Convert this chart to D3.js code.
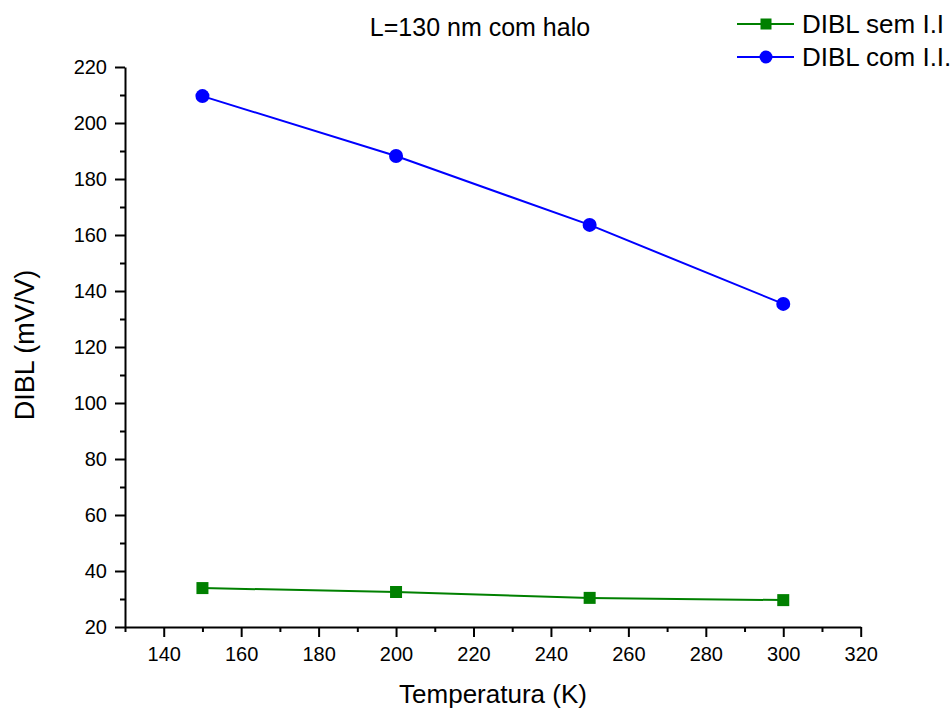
<!DOCTYPE html>
<html><head><meta charset="utf-8">
<script src="https://cdn.jsdelivr.net/npm/d3@7"></script>
<style>body{margin:0;background:#fff}svg{font-family:"Liberation Sans",Arial,sans-serif}</style>
</head><body>
<svg id="c" width="951" height="709"></svg>
<script>
const temps = [150, 200, 250, 300];
const dibSem = [33.9, 32.5, 30.4, 29.6];
const dibCom = [209.6, 188.2, 163.6, 135.4];
const xTicks = [140,160,180,200,220,240,260,280,300,320];
const yTicks = [20,40,60,80,100,120,140,160,180,200,220];

const svg = d3.select("#c");
const x = d3.scaleLinear().domain([130,320]).range([125,860.7]);
const y = d3.scaleLinear().domain([20,220]).range([627,67]);

const xMinor = d3.range(130, 321, 10).filter(v => v % 20 !== 0);
const yMinor = d3.range(30, 221, 20);

svg.append("g").attr("transform","translate(0,627)")
  .call(d3.axisBottom(x).tickValues(xTicks).tickSize(10).tickSizeOuter(0).tickPadding(10));
svg.append("g").attr("transform","translate(0,627)")
  .call(d3.axisBottom(x).tickValues(xMinor).tickSize(5).tickSizeOuter(0).tickFormat(""))
  .select(".domain").remove();
svg.append("g").attr("transform","translate(125,0)")
  .call(d3.axisLeft(y).tickValues(yTicks).tickSize(10).tickSizeOuter(0).tickPadding(8));
svg.append("g").attr("transform","translate(125,0)")
  .call(d3.axisLeft(y).tickValues(yMinor).tickSize(5).tickSizeOuter(0).tickFormat(""))
  .select(".domain").remove();
svg.selectAll(".domain").attr("stroke","#000").attr("stroke-width",2);
svg.selectAll(".tick line").attr("stroke","#000").attr("stroke-width",2);
svg.selectAll(".tick text").attr("font-size",20).attr("fill","#000").attr("font-family","Liberation Sans, Arial, sans-serif");

const line = d3.line().x((d,i)=>x(temps[i])).y(d=>y(d));
svg.append("path").datum(dibSem).attr("d",line).attr("fill","none").attr("stroke","#008000").attr("stroke-width",2);
svg.append("path").datum(dibCom).attr("d",line).attr("fill","none").attr("stroke","#0000ff").attr("stroke-width",2);

svg.selectAll(".sq").data(dibSem).enter().append("rect")
  .attr("x",(d,i)=>x(temps[i])-6).attr("y",d=>y(d)-6).attr("width",12).attr("height",12).attr("fill","#008000");
svg.selectAll(".ci").data(dibCom).enter().append("circle")
  .attr("cx",(d,i)=>x(temps[i])).attr("cy",d=>y(d)).attr("r",7).attr("fill","#0000ff");

svg.append("text").attr("x",480).attr("y",36).attr("text-anchor","middle").attr("font-size",25).text("L=130 nm com halo");
svg.append("text").attr("x",493).attr("y",703).attr("text-anchor","middle").attr("font-size",26).text("Temperatura (K)");
svg.append("text").attr("transform","translate(34,345) rotate(-90)").attr("text-anchor","middle").attr("font-size",27).text("DIBL (mV/V)");

const leg = [
  {label:"DIBL sem I.I", color:"#008000", shape:"sq", yy:24},
  {label:"DIBL com I.I.", color:"#0000ff", shape:"ci", yy:57}
];
leg.forEach(l => {
  svg.append("line").attr("x1",737).attr("x2",794).attr("y1",l.yy).attr("y2",l.yy).attr("stroke",l.color).attr("stroke-width",2);
  if (l.shape==="sq") svg.append("rect").attr("x",760.5).attr("y",l.yy-5.5).attr("width",11).attr("height",11).attr("fill",l.color);
  else svg.append("circle").attr("cx",766).attr("cy",l.yy).attr("r",6.5).attr("fill",l.color);
  svg.append("text").attr("x",802).attr("y",l.yy+9).attr("font-size",26).text(l.label);
});
</script>
</body></html>
